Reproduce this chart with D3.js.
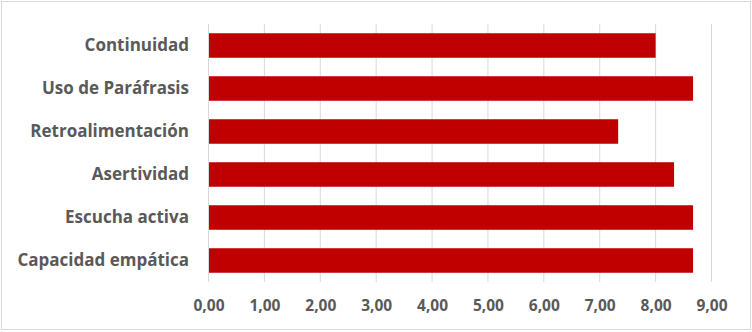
<!DOCTYPE html>
<html><head><meta charset="utf-8">
<script src="https://cdn.jsdelivr.net/npm/d3@7"></script>
<style>body{margin:0;background:#fff}svg{display:block}</style>
</head><body>
<script>
const categories = ["Continuidad","Uso de Paráfrasis","Retroalimentación","Asertividad","Escucha activa","Capacidad empática"];
const values = [8.00, 8.67, 7.33, 8.33, 8.67, 8.67];
const tickValues = [0,1,2,3,4,5,6,7,8,9];

const W = 752, H = 332;
const svg = d3.select("body").append("svg").attr("width", W).attr("height", H);
svg.append("rect").attr("x",1.5).attr("y",1.5).attr("width",749).attr("height",328)
  .attr("fill","#fff").attr("stroke","#d9d9d9").attr("stroke-width",1);

const x = d3.scaleLinear().domain([0,9]).range([208.5, 711.5]);
const y = d3.scaleBand().domain(categories).range([24, 282]).paddingInner(0.43).paddingOuter(0.215);

// gridlines
svg.append("g").selectAll("line").data(tickValues).join("line")
  .attr("x1", d=>x(d)).attr("x2", d=>x(d)).attr("y1", 24).attr("y2", 282)
  .attr("stroke","#d9d9d9").attr("stroke-width",1);

// bars
svg.append("g").selectAll("rect").data(values).join("rect")
  .attr("x", x(0)+0.5).attr("y", (d,i)=>y(categories[i]))
  .attr("width", d=>x(d)-x(0)-0.5).attr("height", y.bandwidth())
  .attr("fill","#c00000");

// x axis labels
const xAxis = d3.axisBottom(x).tickValues(tickValues).tickSize(0).tickPadding(0)
  .tickFormat(d=>d3.format(".2f")(d).replace(".",","));
const gx = svg.append("g").attr("transform","translate(0,300)").call(xAxis);
gx.select(".domain").remove();
gx.selectAll("text").attr("fill","#595959").style("font-family","'Open Sans', sans-serif")
  .style("font-weight","bold").style("font-size","15.5px").attr("dy","0.72em");

// y axis labels
const yAxis = d3.axisLeft(y).tickSize(0).tickPadding(0);
const gy = svg.append("g").attr("transform","translate(189,0)").call(yAxis);
gy.select(".domain").remove();
gy.selectAll("text").attr("fill","#595959").style("font-family","'Open Sans', sans-serif")
  .style("font-weight","bold").style("font-size","17px");
</script>
</body></html>
